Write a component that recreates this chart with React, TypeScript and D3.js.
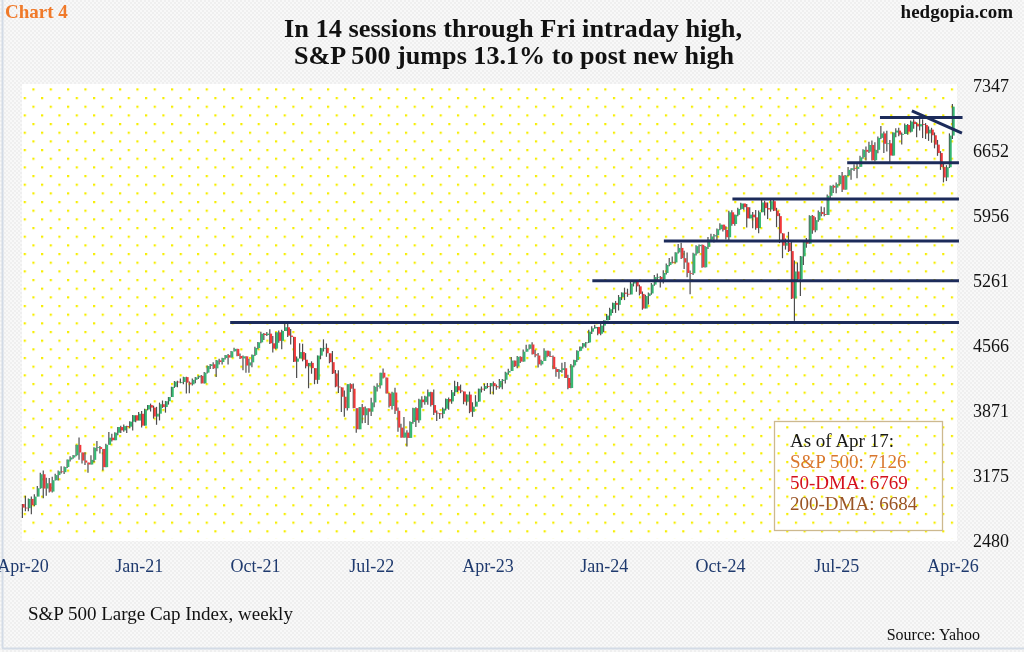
import { useMemo } from "react";
import * as d3 from "d3";

// weekly S&P 500 bars, Apr 24 2020 -> Apr 17 2026 (close / high / low)
const firstOpen = 2875;

const close2020 = [2837, 2831, 2930, 2864, 2955, 3044, 3194, 3041, 3098, 3009, 3130, 3185, 3225, 3216, 3271, 3351, 3373, 3397, 3508, 3427, 3341, 3319, 3298, 3348, 3477, 3484, 3465, 3270, 3509, 3585, 3558, 3638, 3699, 3663, 3709, 3703, 3756];
const high2020 = [2869, 2965, 2934, 2955, 2980, 3068, 3211, 3233, 3156, 3154, 3166, 3199, 3233, 3280, 3278, 3352, 3387, 3399, 3509, 3588, 3425, 3428, 3320, 3397, 3482, 3550, 3497, 3464, 3521, 3646, 3628, 3644, 3700, 3713, 3726, 3712, 3760];
const low2020 = [2727, 2798, 2797, 2766, 2853, 2969, 3038, 2936, 2965, 3000, 2999, 3128, 3127, 3202, 3198, 3260, 3330, 3360, 3387, 3349, 3310, 3292, 3209, 3324, 3323, 3441, 3416, 3234, 3280, 3512, 3543, 3576, 3612, 3634, 3648, 3636, 3687];

const close2021 = [3825, 3768, 3841, 3714, 3887, 3934, 3907, 3811, 3842, 3943, 3913, 3975, 4020, 4129, 4185, 4180, 4181, 4233, 4174, 4156, 4204, 4230, 4247, 4166, 4281, 4352, 4370, 4327, 4412, 4395, 4437, 4468, 4442, 4509, 4535, 4459, 4433, 4455, 4357, 4391, 4471, 4545, 4605, 4697, 4683, 4698, 4595, 4538, 4712, 4621, 4726, 4766];
const high2021 = [3827, 3819, 3860, 3871, 3894, 3935, 3950, 3928, 3915, 3960, 3983, 3978, 4020, 4130, 4191, 4195, 4219, 4238, 4236, 4185, 4218, 4233, 4249, 4256, 4287, 4356, 4372, 4393, 4415, 4429, 4441, 4469, 4480, 4513, 4546, 4536, 4486, 4465, 4457, 4429, 4475, 4559, 4608, 4718, 4705, 4715, 4744, 4672, 4713, 4731, 4740, 4808];
const low2021 = [3663, 3750, 3784, 3694, 3730, 3878, 3865, 3789, 3723, 3770, 3904, 3853, 3939, 4021, 4118, 4125, 4168, 4157, 4057, 4061, 4143, 4167, 4212, 4164, 4179, 4271, 4321, 4321, 4233, 4368, 4368, 4422, 4367, 4443, 4508, 4457, 4428, 4306, 4279, 4279, 4339, 4460, 4531, 4596, 4631, 4672, 4586, 4495, 4531, 4600, 4531, 4733];

const close2022 = [4677, 4663, 4398, 4432, 4501, 4419, 4349, 4385, 4329, 4204, 4463, 4543, 4546, 4488, 4393, 4272, 4132, 4123, 4023, 3901, 4158, 4109, 3901, 3675, 3912, 3825, 3899, 3863, 3962, 4130, 4145, 4280, 4228, 4058, 3924, 4068, 3873, 3693, 3586, 3640, 3583, 3753, 3901, 3771, 3993, 3965, 4026, 4072, 3934, 3852, 3845, 3840];
const high2022 = [4819, 4749, 4665, 4453, 4595, 4590, 4490, 4385, 4402, 4300, 4465, 4546, 4637, 4593, 4471, 4512, 4308, 4307, 4124, 4090, 4158, 4168, 4165, 3838, 3913, 3946, 3918, 3880, 4013, 4140, 4167, 4280, 4326, 4203, 4062, 4076, 4119, 3907, 3733, 3806, 3665, 3762, 3905, 3911, 4001, 4028, 4034, 4101, 4076, 4101, 3876, 3850];
const low2022 = [4662, 4582, 4395, 4223, 4432, 4402, 4327, 4114, 4269, 4157, 4161, 4424, 4507, 4450, 4381, 4267, 4124, 4062, 3859, 3810, 3875, 4074, 3900, 3637, 3705, 3739, 3742, 3722, 3818, 3910, 4079, 4112, 4218, 4057, 3907, 3886, 3838, 3648, 3584, 3584, 3492, 3590, 3735, 3699, 3744, 3906, 3937, 3938, 3919, 3828, 3764, 3784];

const close2023 = [3895, 3999, 3973, 4071, 4136, 4090, 4079, 3970, 4046, 3862, 3917, 3971, 4109, 4105, 4138, 4134, 4169, 4136, 4124, 4192, 4205, 4282, 4299, 4410, 4348, 4450, 4399, 4505, 4536, 4582, 4478, 4464, 4370, 4406, 4516, 4457, 4450, 4320, 4288, 4309, 4328, 4224, 4117, 4358, 4415, 4514, 4559, 4595, 4604, 4719, 4755, 4770];
const high2023 = [3907, 4003, 4016, 4095, 4195, 4182, 4153, 4080, 4049, 4078, 3964, 4040, 4110, 4133, 4164, 4170, 4170, 4187, 4155, 4213, 4213, 4291, 4323, 4449, 4406, 4458, 4456, 4528, 4578, 4582, 4607, 4527, 4491, 4419, 4541, 4516, 4511, 4465, 4338, 4320, 4386, 4394, 4257, 4374, 4418, 4521, 4560, 4599, 4609, 4739, 4778, 4793];
const low2023 = [3794, 3877, 3885, 3949, 4031, 4074, 4061, 3943, 3929, 3847, 3808, 3918, 3969, 4069, 4086, 4114, 4049, 4048, 4098, 4109, 4104, 4166, 4259, 4299, 4341, 4328, 4385, 4397, 4504, 4528, 4475, 4445, 4335, 4356, 4406, 4446, 4448, 4316, 4238, 4216, 4279, 4223, 4104, 4113, 4338, 4394, 4511, 4538, 4546, 4597, 4694, 4751];

const close2024 = [4697, 4784, 4840, 4891, 4959, 5027, 5006, 5089, 5137, 5124, 5117, 5234, 5254, 5204, 5123, 4967, 5100, 5128, 5223, 5303, 5305, 5278, 5347, 5432, 5465, 5460, 5567, 5615, 5505, 5459, 5347, 5344, 5554, 5634, 5648, 5408, 5626, 5703, 5738, 5751, 5815, 5864, 5808, 5729, 5996, 5871, 5969, 6032, 6090, 6051, 5931, 5971];
const high2024 = [4754, 4802, 4842, 4907, 4975, 5030, 5048, 5111, 5140, 5190, 5179, 5262, 5265, 5264, 5222, 5150, 5114, 5139, 5239, 5325, 5342, 5315, 5376, 5447, 5506, 5523, 5570, 5656, 5669, 5585, 5566, 5373, 5564, 5643, 5651, 5651, 5636, 5733, 5767, 5765, 5823, 5878, 5862, 5847, 6012, 6017, 5972, 6044, 6099, 6085, 6086, 6050];
const low2024 = [4682, 4682, 4714, 4845, 4845, 4919, 4920, 4946, 5057, 5057, 5092, 5130, 5203, 5146, 5107, 4953, 4967, 5011, 5114, 5211, 5257, 5191, 5234, 5331, 5420, 5447, 5448, 5555, 5497, 5390, 5302, 5120, 5325, 5535, 5560, 5402, 5406, 5604, 5695, 5674, 5696, 5805, 5790, 5706, 5696, 5853, 5853, 5955, 6024, 6024, 5833, 5932];

const close2025 = [5942, 5827, 5997, 6101, 6041, 6026, 6115, 6013, 5955, 5770, 5639, 5668, 5581, 5074, 5363, 5283, 5525, 5687, 5660, 5958, 5803, 5912, 6000, 5977, 5967, 6173, 6279, 6260, 6297, 6389, 6238, 6389, 6450, 6467, 6460, 6482, 6584, 6664, 6644, 6716, 6553, 6664, 6792, 6840, 6729, 6734, 6603, 6849, 6870, 6827, 6834, 6930, 6858];
const high2025 = [5999, 6021, 6014, 6128, 6120, 6101, 6128, 6147, 6044, 5986, 5773, 5715, 5787, 5696, 5481, 5460, 5528, 5700, 5720, 5964, 5968, 5944, 6016, 6059, 6051, 6187, 6284, 6290, 6316, 6395, 6427, 6395, 6481, 6467, 6509, 6532, 6600, 6671, 6700, 6750, 6764, 6744, 6807, 6920, 6860, 6869, 6770, 6853, 6896, 6901, 6850, 6945, 6940];
const low2025 = [5825, 5809, 5773, 6001, 5962, 5923, 6003, 6009, 5837, 5667, 5505, 5597, 5572, 5069, 4835, 5262, 5101, 5433, 5616, 5771, 5767, 5782, 5896, 5953, 5953, 6020, 6149, 6202, 6201, 6282, 6212, 6250, 6383, 6343, 6437, 6361, 6481, 6569, 6551, 6630, 6550, 6540, 6627, 6780, 6631, 6646, 6521, 6600, 6800, 6810, 6721, 6835, 6825];

const close2026 = [6966, 6940, 6915, 6939, 6930, 6840, 6880, 6820, 6720, 6630, 6480, 6369, 6478, 6817, 7126];
const high2026 = [6978, 6990, 6960, 7002, 6990, 6950, 6915, 6900, 6850, 6770, 6650, 6520, 6500, 6840, 7155];
const low2026 = [6850, 6890, 6800, 6870, 6790, 6780, 6760, 6740, 6680, 6600, 6450, 6316, 6330, 6470, 6780];

const yTicks = [7347, 6652, 5956, 5261, 4566, 3871, 3175, 2480];
const xTickWeeks = [0, 39, 78, 117, 156, 195, 234, 273, 312];
const xTickLabels = ["Apr-20", "Jan-21", "Oct-21", "Jul-22", "Apr-23", "Jan-24", "Oct-24", "Jul-25", "Apr-26"];

// drawn support / resistance levels (value, first week, last week)
const levelValues = [4818, 5265, 5690, 6139, 6525, 7010];
const levelFrom = [69.5, 191, 215, 238, 276.5, 287.5];
const levelTo = [314, 314, 314, 314, 314, 315.2];
// falling trendline: [week, value]
const trendPoints: [number, number][] = [[298.2, 7080], [315, 6844]];

const legendLines = ["As of Apr 17:", "S&P 500: 7126", "50-DMA: 6769", "200-DMA: 6684"];
const legendColors = ["#1a1a1a", "#d9772e", "#d4111e", "#9a5425"];

const W = 1024;
const H = 652;
const serif = "'Liberation Serif', 'Times New Roman', serif";

export default function App() {
  const candles = useMemo(() => {
    const c = [...close2020, ...close2021, ...close2022, ...close2023, ...close2024, ...close2025, ...close2026];
    const h = [...high2020, ...high2021, ...high2022, ...high2023, ...high2024, ...high2025, ...high2026];
    const l = [...low2020, ...low2021, ...low2022, ...low2023, ...low2024, ...low2025, ...low2026];
    return c.map((close, i) => {
      const open = i === 0 ? firstOpen : c[i - 1];
      return {
        i,
        open,
        close,
        high: Math.max(h[i], open, close),
        low: Math.min(l[i], open, close),
      };
    });
  }, []);

  const x = d3.scaleLinear().domain([0, 312]).range([23, 953]);
  const y = d3.scaleLinear().domain([2480, 7347]).range([541, 86]);
  const trend = d3.line<[number, number]>().x((d) => x(d[0])).y((d) => y(d[1]));

  return (
    <svg width={W} height={H} style={{ position: "fixed", left: 0, top: 0 }} fontFamily={serif}>
      <defs>
        <pattern id="paper" width={4} height={4} patternUnits="userSpaceOnUse">
          <rect width={4} height={4} fill="#f8f8f8" />
          <rect width={2} height={2} fill="#efefef" />
          <rect x={2} y={2} width={2} height={2} fill="#efefef" />
        </pattern>
        <pattern id="dots" x={23.7} y={97} width={17.33} height={17.33} patternUnits="userSpaceOnUse">
          <rect x={0} y={0} width={2.2} height={2.2} fill="#f6ee00" />
          <rect x={8.67} y={8.67} width={2.2} height={2.2} fill="#f6ee00" />
        </pattern>
      </defs>

      <rect width={W} height={H} fill="url(#paper)" />
      <line x1={2.5} x2={2.5} y1={0} y2={648} stroke="#d3dbe6" strokeWidth={2} />
      <line x1={2} x2={W} y1={648.5} y2={648.5} stroke="#d3dbe6" strokeWidth={2} />

      {/* plot area */}
      <rect x={22} y={84} width={935} height={457} fill="#ffffff" />
      <rect x={22} y={86} width={935} height={453} fill="url(#dots)" />

      {/* titles */}
      <text x={5} y={18} fontSize={19} fontWeight="bold" fill="#f07a2a">Chart 4</text>
      <text x={1013} y={18} fontSize={19} fontWeight="bold" textAnchor="end" fill="#111">hedgopia.com</text>
      <text x={513} y={37} fontSize={25} fontWeight="bold" textAnchor="middle" textLength={458} lengthAdjust="spacingAndGlyphs" fill="#111">
        In 14 sessions through Fri intraday high,
      </text>
      <text x={514} y={64} fontSize={25} fontWeight="bold" textAnchor="middle" textLength={440} lengthAdjust="spacingAndGlyphs" fill="#111">
        S&amp;P 500 jumps 13.1% to post new high
      </text>

      {/* y axis labels */}
      {yTicks.map((t) => (
        <text key={t} x={1009} y={y(t) + 6} fontSize={18} textAnchor="end" fill="#111">{t}</text>
      ))}

      {/* x axis labels */}
      {xTickWeeks.map((w, k) => (
        <text key={w} x={x(w)} y={572} fontSize={18} textAnchor="middle" fill="#1f3a6e">{xTickLabels[k]}</text>
      ))}

      {/* candles */}
      {candles.map((d) => {
        const up = d.close >= d.open;
        const top = y(Math.max(d.open, d.close));
        const bot = y(Math.min(d.open, d.close));
        return (
          <g key={d.i}>
            <line x1={x(d.i) - 0.6} x2={x(d.i) - 0.6} y1={y(d.high)} y2={y(d.low)} stroke="#4d4d4d" strokeWidth={1.2} />
            <rect x={x(d.i) - 0.4} y={top} width={2.1} height={Math.max(bot - top, 0.8)} fill={up ? "#34b872" : "#f2383a"} />
          </g>
        );
      })}

      {/* support lines */}
      {levelValues.map((v, k) => (
        <line key={v} x1={x(levelFrom[k])} x2={x(levelTo[k])} y1={y(v)} y2={y(v)} stroke="#1c2b5a" strokeWidth={3} />
      ))}
      <path d={trend(trendPoints) ?? ""} stroke="#1c2b5a" strokeWidth={3} fill="none" />

      {/* legend box */}
      <rect x={774.5} y={421.5} width={168} height={109} fill="none" stroke="#cdb98f" strokeWidth={1.3} />
      {legendLines.map((s, k) => (
        <text key={s} x={790} y={447 + k * 21} fontSize={19} fill={legendColors[k]}>{s}</text>
      ))}

      {/* footer */}
      <text x={28} y={620} fontSize={19} fill="#111">S&amp;P 500 Large Cap Index, weekly</text>
      <text x={980} y={640} fontSize={16} textAnchor="end" fill="#111">Source: Yahoo</text>
    </svg>
  );
}
